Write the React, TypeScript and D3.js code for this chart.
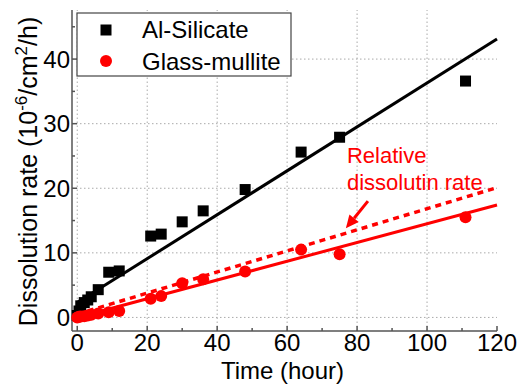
import * as d3 from 'd3';

const W = 525;
const H = 385;

// Al-Silicate (black squares): [time (h), rate]
const alTime = [0, 0.5, 1, 2, 3, 4, 6, 9, 12, 21, 24, 30, 36, 48, 64, 75, 111];
const alRate = [0.3, 1, 1.8, 2.3, 2.7, 3.2, 4.3, 7, 7.2, 12.6, 12.9, 14.8, 16.5, 19.8, 25.6, 27.9, 36.6];

// Glass-mullite (red circles)
const gmTime = [0, 0.5, 1, 2, 3, 4, 6, 9, 12, 21, 24, 30, 36, 48, 64, 75, 111];
const gmRate = [0, 0.1, 0.15, 0.2, 0.3, 0.4, 0.6, 0.8, 1.0, 2.9, 3.3, 5.3, 5.9, 7.1, 10.5, 9.8, 15.5];

// linear fits, endpoints
const alFit = [[0, 2.3], [120, 43.1]];
const gmFit = [[0, 0], [120, 17.4]];
const relFit = [[0, 0.5], [120, 20.1]];

const xTicks = [0, 20, 40, 60, 80, 100, 120];
const xMinor = [10, 30, 50, 70, 90, 110];
const yTicks = [0, 10, 20, 30, 40];
const yMinor = [5, 15, 25, 35, 45];
const xGrid = [0, 20, 40, 60, 80, 100];

const seriesNames = ['Al-Silicate', 'Glass-mullite'];
const noteLines = ['Relative', 'dissolutin rate'];
const arrowFrom = [83.1, 18.0];
const arrowTo = [76.8, 13.8];
const notePos = [77.1, 23.9];

const font = 'Arial, "Liberation Sans", sans-serif';

export default function App() {
  const x = d3.scaleLinear().domain([-1.5, 120]).range([72, 497]);
  const y = d3.scaleLinear().domain([-2.1, 47.6]).range([331, 10]);
  const line = d3.line<number[]>().x(d => x(d[0])).y(d => y(d[1]));

  const [x0, x1] = x.range();
  const [yb, yt] = y.range();

  // arrow head geometry
  const ax1 = x(arrowFrom[0]), ay1 = y(arrowFrom[1]);
  const ax2 = x(arrowTo[0]), ay2 = y(arrowTo[1]);
  const ang = Math.atan2(ay2 - ay1, ax2 - ax1);
  const hl = 13, hw = 6;
  const bx = ax2 - hl * Math.cos(ang), by = ay2 - hl * Math.sin(ang);
  const head = [
    [ax2, ay2],
    [bx + hw * Math.sin(ang), by - hw * Math.cos(ang)],
    [bx - hw * Math.sin(ang), by + hw * Math.cos(ang)],
  ].map(p => p.join(',')).join(' ');

  return (
    <svg width={W} height={H} style={{ position: 'absolute', left: 0, top: 0, background: '#fff' }} fontFamily={font}>
      {/* grid */}
      <g stroke="#aaa" strokeWidth={1} strokeDasharray="1.5,2.5">
        {xGrid.map(t => <line key={'gx' + t} x1={x(t)} x2={x(t)} y1={yb} y2={yt} />)}
        {yTicks.map(t => <line key={'gy' + t} x1={x0} x2={x1} y1={y(t)} y2={y(t)} />)}
      </g>

      {/* axes */}
      <g stroke="#555" strokeWidth={1.5}>
        <line x1={x0} x2={x1} y1={yb} y2={yb} />
        <line x1={x0} x2={x0} y1={yb} y2={yt} />
        {xTicks.map(t => <line key={'xt' + t} x1={x(t)} x2={x(t)} y1={yb} y2={yb - 5} />)}
        {xMinor.map(t => <line key={'xm' + t} x1={x(t)} x2={x(t)} y1={yb} y2={yb - 3} />)}
        {yTicks.map(t => <line key={'yt' + t} x1={x0} x2={x0 + 5} y1={y(t)} y2={y(t)} />)}
        {yMinor.map(t => <line key={'ym' + t} x1={x0} x2={x0 + 3} y1={y(t)} y2={y(t)} />)}
      </g>

      <g fontSize={24} fill="#000">
        {xTicks.map(t => (
          <text key={'xl' + t} x={x(t)} y={351} textAnchor="middle">{t}</text>
        ))}
        {yTicks.map(t => (
          <text key={'yl' + t} x={70} y={y(t) + 8.6} textAnchor="end">{t}</text>
        ))}
      </g>

      <text x={(x0 + x1) / 2 - 2} y={379} fontSize={24} textAnchor="middle">Time (hour)</text>
      <text transform={`translate(37,${(yb + yt) / 2 + 1}) rotate(-90)`} fontSize={25} textAnchor="middle">
        Dissolution rate (10<tspan dy={-10} fontSize={17}>-6</tspan><tspan dy={10}>/cm</tspan>
        <tspan dy={-10} fontSize={17}>2</tspan><tspan dy={10}>/h)</tspan>
      </text>

      {/* fit lines */}
      <path d={line(alFit) || ''} stroke="#000" strokeWidth={3} fill="none" />
      <path d={line(gmFit) || ''} stroke="#f00" strokeWidth={3} fill="none" />
      <path d={line(relFit) || ''} stroke="#f00" strokeWidth={3.5} strokeDasharray="6,5" fill="none" />

      {/* data points */}
      {alTime.map((t, i) => (
        <rect key={'a' + i} x={x(t) - 5.5} y={y(alRate[i]) - 5.5} width={11} height={11} fill="#000" />
      ))}
      {gmTime.map((t, i) => (
        <circle key={'g' + i} cx={x(t)} cy={y(gmRate[i])} r={6} fill="#f00" />
      ))}

      {/* annotation */}
      <g fill="#f00" fontSize={22}>
        {noteLines.map((s, i) => (
          <text key={s} x={x(notePos[0])} y={y(notePos[1]) + i * 27}>{s}</text>
        ))}
      </g>
      <line x1={ax1} y1={ay1} x2={bx} y2={by} stroke="#f00" strokeWidth={3} />
      <polygon points={head} fill="#f00" />

      {/* legend */}
      <rect x={77} y={13} width={214} height={63} fill="#fff" stroke="#444" strokeWidth={1.2} />
      <rect x={100.5} y={24.5} width={11} height={11} fill="#000" />
      <circle cx={106} cy={61} r={6} fill="#f00" />
      <text x={142} y={38} fontSize={24}>{seriesNames[0]}</text>
      <text x={142} y={70} fontSize={24}>{seriesNames[1]}</text>
    </svg>
  );
}
